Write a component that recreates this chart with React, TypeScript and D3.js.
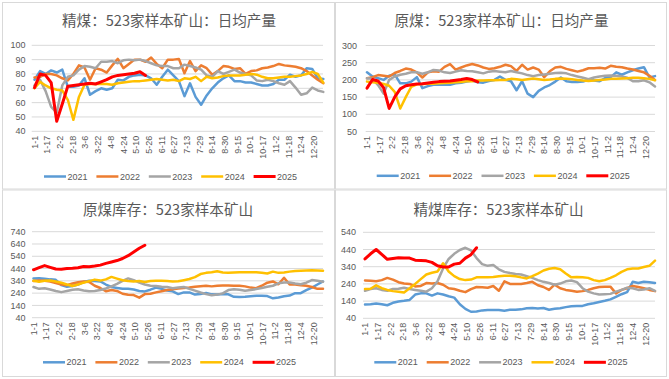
import React from 'react';
import * as d3 from 'd3';

// ---------- shared axis / legend data ----------
const tickLabels = ['1-1','1-17','2-2','2-18','3-6','3-22','4-8','4-24','5-10','5-26','6-11','6-27','7-13','7-29','8-14','8-30','9-15','10-1','10-17','11-2','11-18','12-4','12-20'];
const years = ['2021', '2022', '2023', '2024', '2025'];
const colors = ['#5B9BD5', '#ED7D31', '#A5A5A5', '#FFC000', '#FF0000'];

// ---------- panel 1: 精煤 日均产量 ----------
const p1_2021 = [76,82,80,82.5,81,83,71,71,72,77,65.5,68,70,69,70,76,75.5,78,79,79.5,79,77,72.5,78,83,79,75,64.5,73.5,64,58.5,65,70,74,77,79,75,75,74,74,73,72,72,73,76,76,79.5,78,79,84,83.5,77,76.5];
const p1_2022 = [77.5,78,80,80,79,77,75.5,80,86,84.5,76,84,83,81,86,90.5,84,87,90,90,88.5,91.5,87,84,90,90,90.5,80.5,89,82,86,84,79.5,82,85.5,85,83.5,84,80,82,82.5,84,84.5,85.5,87,86,85.5,85,84,82,79,76,73.5];
const p1_2023 = [72,76,68,57,53,72,78,79,83,85.5,85,84,88.5,88.5,89,87.5,89.5,90,89.5,90,89,87.5,86,85.5,85.5,84,84,86.5,85.5,84.5,83,79,78,82,80,81.5,83,81,80,79,75.5,75,76,75,73.5,72.5,75,70.5,65.5,66.5,70.5,68.5,67.5];
const p1_2024 = [70,74.5,72,70,69,68.5,62,48,64,72.5,73,73,73,73,72.5,73.5,74,74.5,75,75,75.5,76,76.5,76,75.5,76,75,77,76.5,78,75,78,77,77.5,78.5,79,79,79,79.5,80,79.5,78,77,77,77.5,78,78,78.5,79,80,81.5,80,74];
const p1_2025 = [70.5,80,79,74,47,59,71.5,72,72.5,73,73.5,73,74.5,76,78,79,79.5,80,80.5,81.5,79];

// ---------- panel 2: 原煤 日均产量 ----------
const p2_2021 = [222,210,205,200,212,216,190,190,195,208,176,182,186,186,186,186,190,192,195,198,193,192,197,200,210,200,196,170,196,160,150,168,178,185,195,207,196,194,194,195,200,198,196,205,208,222,215,222,228,233,237,207,211];
const p2_2022 = [205,208,214,212,210,220,226,233,230,222,207,222,225,224,238,246,230,236,242,246,242,236,232,234,238,244,240,226,244,230,236,230,208,225,236,238,232,228,224,228,234,234,235,233,241,238,237,233,230,226,222,212,200];
const p2_2023 = [205,203,185,160,200,210,215,218,222,222,218,222,229,227,222,220,224,228,226,225,222,219,224,226,224,222,226,222,219,214,211,214,216,218,220,221,219,214,210,206,202,207,210,212,213,212,210,206,196,196,199,193,181];
const p2_2024 = [195,193,192,188,183,165,117,150,180,187,188,189,189,190,191,192,193,194,196,196,198,198,199,199,200,200,203,202,200,202,204,202,200,201,203,204,203,202,200,198,197,198,200,201,203,203,204,205,206,206,205,203,199];
const p2_2025 = [176,201,197,177,117,150,174,183,186,188,189,191,193,195,196,197,199,201,204,201,194];

// ---------- panel 3: 原煤库存 ----------
const p3_2021 = [360,362,358,352,348,305,292,298,310,330,340,338,335,310,290,282,275,276,270,258,254,268,285,275,262,255,232,246,246,228,232,242,230,228,232,230,210,208,210,214,218,218,216,198,205,215,220,240,240,265,285,310,335];
const p3_2022 = [338,342,340,335,322,310,305,318,328,335,330,300,282,255,265,258,235,226,224,203,232,235,246,255,265,272,277,281,285,292,296,300,295,300,302,303,300,300,295,285,280,300,325,335,312,365,310,310,305,300,290,275,275];
const p3_2023 = [290,275,280,270,258,248,258,268,272,262,255,258,265,278,295,315,340,360,345,325,310,300,298,292,290,280,285,290,275,260,245,232,222,228,238,265,272,268,260,265,273,282,292,300,320,327,327,318,312,325,346,340,332];
const p3_2024 = [340,332,340,343,335,325,310,298,310,325,338,350,342,352,372,358,345,338,335,338,330,338,340,340,338,335,336,345,355,370,395,405,410,418,408,405,408,410,410,410,410,405,400,415,405,408,415,420,422,424,426,424,423];
const p3_2025 = [430,448,464,450,436,435,440,442,446,457,455,460,468,482,493,505,522,545,575,605,630];

// ---------- panel 4: 精煤库存 ----------
const p4_2021 = [120,122,126,122,116,130,138,142,147,178,185,185,172,185,178,168,160,122,95,78,80,86,88,88,88,84,90,90,92,98,100,97,100,90,95,98,105,110,112,112,122,128,135,142,150,165,180,192,252,245,252,250,245];
const p4_2022 = [260,258,255,262,275,265,250,242,240,225,228,245,242,245,235,215,210,200,192,210,222,220,218,228,200,255,240,240,240,245,252,232,222,205,236,215,205,200,195,198,205,215,222,224,224,185,205,215,228,222,215,205,198];
const p4_2023 = [200,210,215,205,200,210,212,218,210,205,200,195,215,255,330,385,415,437,450,435,390,355,345,350,325,310,303,298,295,285,275,262,252,245,235,242,255,260,250,215,195,185,178,180,182,195,205,218,215,205,208,215,200];
const p4_2024 = [210,212,232,215,205,198,195,190,215,240,268,295,305,312,360,312,285,268,262,265,278,278,278,280,285,288,288,285,278,272,285,300,318,328,332,325,300,278,280,278,275,262,255,262,275,290,310,325,330,330,338,345,375];
const p4_2025 = [385,415,440,412,383,388,392,390,390,378,376,374,365,345,338,338,355,360,390,410,450];

const titles = ['精煤：523家样本矿山：日均产量', '原煤：523家样本矿山：日均产量', '原煤库存：523家样本矿山', '精煤库存：523家样本矿山'];

type Layout = {
  box: [number, number, number, number];
  gx0: number; gx1: number; dx0: number; dx1: number;
  yTop: number; yBot: number; yMin: number; yMax: number; yStep: number;
  labelRight: number; titleX: number; titleY: number; legX: number; legY: number;
};

const layouts: Layout[] = [
  { box: [2.5, 2.5, 334.5, 189], gx0: 31.7, gx1: 323, dx0: 34.5, dx1: 323.3, yTop: 45.3, yBot: 131.3, yMin: 40, yMax: 100, yStep: 10, labelRight: 25.5, titleX: 169, titleY: 25.5, legX: 44, legY: 176.5 },
  { box: [335.5, 2.5, 666.5, 189], gx0: 365.7, gx1: 655, dx0: 367, dx1: 655, yTop: 45.5, yBot: 131.5, yMin: 50, yMax: 300, yStep: 50, labelRight: 357, titleX: 501.5, titleY: 25.5, legX: 376.7, legY: 175.8 },
  { box: [2.5, 190, 334.5, 376.5], gx0: 32, gx1: 323, dx0: 33.5, dx1: 323, yTop: 231.7, yBot: 317.7, yMin: 40, yMax: 740, yStep: 100, labelRight: 25.5, titleX: 168, titleY: 215, legX: 43, legY: 362.3 },
  { box: [335.5, 190, 666.5, 376.5], gx0: 363, gx1: 655, dx0: 365, dx1: 655, yTop: 232.3, yBot: 318.3, yMin: 40, yMax: 540, yStep: 100, labelRight: 356, titleX: 498.5, titleY: 215, legX: 374.3, legY: 362.3 },
];

const seriesByPanel = [
  [p1_2021, p1_2022, p1_2023, p1_2024, p1_2025],
  [p2_2021, p2_2022, p2_2023, p2_2024, p2_2025],
  [p3_2021, p3_2022, p3_2023, p3_2024, p3_2025],
  [p4_2021, p4_2022, p4_2023, p4_2024, p4_2025],
];

const TXT = '#595959';
const GRID = '#D9D9D9';
const LABEL_FONT = "'Liberation Sans', Arial, sans-serif";
const TITLE_FONT = "'Noto Sans CJK SC', 'Noto Sans', sans-serif";

function Panel({ L, title, series }: { L: Layout; title: string; series: number[][] }) {
  const x = d3.scaleLinear().domain([0, 364]).range([L.dx0, L.dx1]);
  const y = d3.scaleLinear().domain([L.yMin, L.yMax]).range([L.yBot, L.yTop]);
  const yTicks = d3.range(L.yMin, L.yMax + 0.001, L.yStep);
  const line = d3.line<number>()
    .x((_, i) => x(i * 7))
    .y((d) => y(d));
  const [bx0, by0, bx1, by1] = L.box;
  return (
    <g>
      <rect x={bx0} y={by0} width={bx1 - bx0} height={by1 - by0} fill="#fff" stroke={GRID} strokeWidth={1} />
      <text x={L.titleX} y={L.titleY} textAnchor="middle" fontFamily={TITLE_FONT} fontSize={14.6} fill={TXT}>{title}</text>
      {yTicks.map((t) => (
        <g key={t}>
          <line x1={L.gx0} x2={L.gx1} y1={y(t)} y2={y(t)} stroke={GRID} strokeWidth={1} />
          <text x={L.labelRight} y={y(t)} dy="0.35em" textAnchor="end" fontFamily={LABEL_FONT} fontSize={9} fill={TXT}>{t}</text>
        </g>
      ))}
      {tickLabels.map((lab, i) => {
        const tx = x(i * 16);
        const ty = L.yBot + 4.5;
        return (
          <text key={lab} transform={`translate(${tx},${ty}) rotate(-90)`} dy="0.35em" textAnchor="end" fontFamily={LABEL_FONT} fontSize={9} fill={TXT}>{lab}</text>
        );
      })}
      {series.map((s, k) => (
        <path key={k} d={line(s) || ''} fill="none" stroke={colors[k]} strokeWidth={k === 4 ? 3 : 2.5} strokeLinejoin="round" strokeLinecap="round" />
      ))}
      {years.map((yr, k) => {
        const lx = L.legX + k * 52.4;
        return (
          <g key={yr}>
            <line x1={lx} x2={lx + 22} y1={L.legY} y2={L.legY} stroke={colors[k]} strokeWidth={k === 4 ? 3 : 2.5} />
            <text x={lx + 23.5} y={L.legY} dy="0.35em" fontFamily={LABEL_FONT} fontSize={9} fill={TXT}>{yr}</text>
          </g>
        );
      })}
    </g>
  );
}

export default function App() {
  return (
    <svg width={669} height={379} style={{ display: 'block', position: 'absolute', left: 0, top: 0 }}>
      <rect x={0} y={0} width={669} height={379} fill="#fff" />
      {layouts.map((L, i) => (
        <Panel key={i} L={L} title={titles[i]} series={seriesByPanel[i]} />
      ))}
    </svg>
  );
}
